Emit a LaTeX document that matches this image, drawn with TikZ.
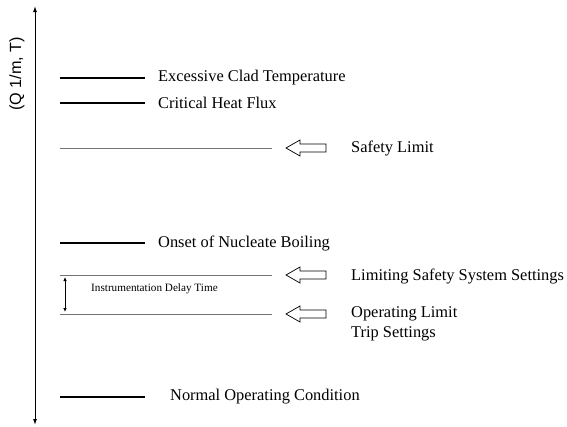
\documentclass[tikz,border=0pt]{standalone}
\usepackage{fontspec}
\setmainfont{Liberation Serif}
\newfontfamily\axisfont{Liberation Sans}
\usetikzlibrary{arrows.meta}
\begin{document}
\begin{tikzpicture}[x=1pt,y=-1pt,
  level/.style={line width=2pt},
  guide/.style={line width=0.5pt, draw=black!55},
  lbl/.style={anchor=west, inner sep=0pt, font=\fontsize{16.4}{20}\selectfont},
  hollow/.style={line width=0.7pt, draw=black, fill=white}]
\useasboundingbox (0,0) rectangle (567,426);
% axis
\coordinate (top) at (35,6);
\coordinate (bot) at (35,425);
\draw[line width=1pt, {Latex[length=6pt,width=4pt]}-{Latex[length=6pt,width=4pt]}] (bot) -- (top);
\node[rotate=90, font=\axisfont\fontsize{16.2}{18}\selectfont] (ax) at (17,74) {(Q 1/m, T)};
% thick levels
\foreach \n/\y in {ect/78, chf/103, onb/243, noc/397}{
  \coordinate (\n a) at (60,\y); \coordinate (\n b) at (145,\y);
  \draw[level] (\n a) -- (\n b);
}
% thin guides
\foreach \n/\y in {sl/148, lsss/275, ol/314}{
  \coordinate (\n a) at (60,\y); \coordinate (\n b) at (272,\y);
  \draw[guide] (\n a) -- (\n b);
  \draw[hollow] (286,\y) -- (300,\y-8) -- (300,\y-4) -- (326,\y-4) -- (326,\y+4) -- (300,\y+4) -- (300,\y+8) -- cycle;
}
% labels
\node[lbl] (t1) at (158,78) {Excessive Clad Temperature};
\node[lbl] (t2) at (158,103) {Critical Heat Flux};
\node[lbl] (t3) at (351,148) {Safety Limit};
\node[lbl] (t4) at (158,243) {Onset of Nucleate Boiling};
\node[lbl] (t5) at (351,276) {Limiting Safety System Settings};
\node[lbl, align=left] (t6) at (351,324) {Operating Limit\\Trip Settings};
\node[lbl] (t7) at (170,397) {Normal Operating Condition};
% delay
\coordinate (d1) at (65,277); \coordinate (d2) at (65,312);
\draw[line width=0.8pt, {Latex[length=4pt,width=3.5pt]}-{Latex[length=4pt,width=3.5pt]}] (d1) -- (d2);
\node[anchor=west, inner sep=0pt, font=\fontsize{11.2}{13}\selectfont] (idt) at (91,289) {Instrumentation Delay Time};
\end{tikzpicture}
\end{document}
